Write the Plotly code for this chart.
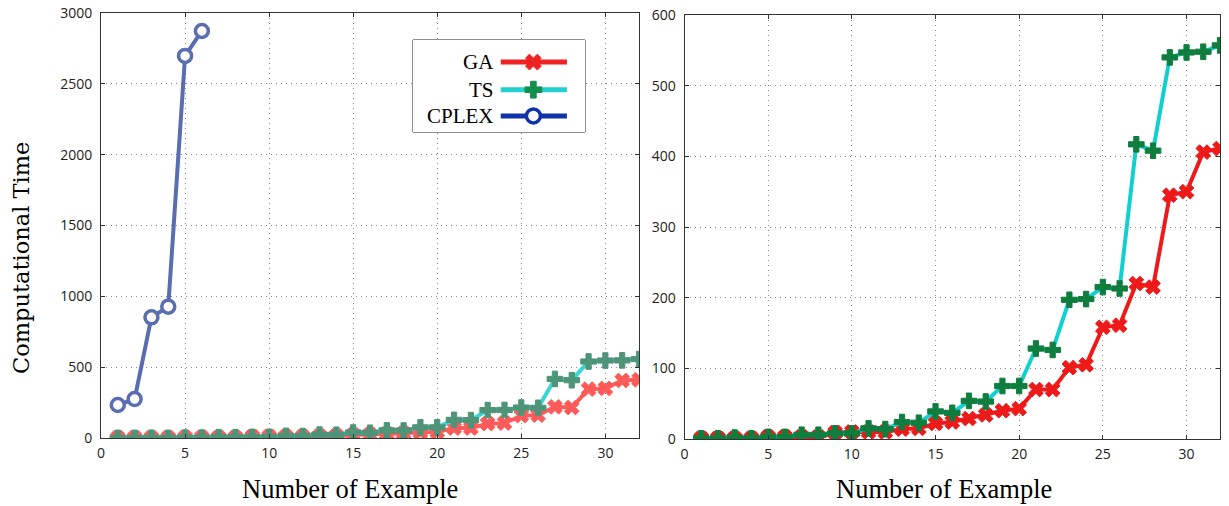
import plotly.graph_objects as go

# ---------------- data ----------------
examples = list(range(1, 33))
ga_time = [1, 1, 1, 1, 3, 3, 3, 3, 9, 10, 10, 10, 14, 15, 22, 24, 29, 34, 40, 43,
           70, 70, 101, 105, 158, 161, 220, 215, 345, 350, 406, 411]
ts_time = [1, 1, 2, 1, 3, 3, 6, 6, 8, 8, 15, 14, 24, 23, 39, 37, 54, 53, 75, 75,
           128, 126, 197, 198, 215, 213, 417, 408, 540, 547, 548, 557]
cplex_examples = [1, 2, 3, 4, 5, 6]
cplex_time = [233, 275, 852, 927, 2697, 2873]

x_ticks = [0, 5, 10, 15, 20, 25, 30]
left_y_ticks = [0, 500, 1000, 1500, 2000, 2500, 3000]
right_y_ticks = [0, 100, 200, 300, 400, 500, 600]
legend_names = ["GA", "TS", "CPLEX"]

W, H = 1229, 506

def px_x(p):
    return p / W

def px_y(p):
    return 1 - p / H

fig = go.Figure()

# ---------- left panel (faded colours) ----------
fig.add_trace(go.Scatter(x=examples, y=ga_time, mode="lines+markers", xaxis="x", yaxis="y",
                         line=dict(color="#ff5a5a", width=4),
                         marker=dict(symbol="x", size=13, color="#ff5a5a",
                                     line=dict(color="#ff5a5a", width=1)),
                         showlegend=False))
fig.add_trace(go.Scatter(x=examples, y=ts_time, mode="lines+markers", xaxis="x", yaxis="y",
                         line=dict(color="#3ad4d4", width=4),
                         marker=dict(symbol="cross", size=13, color="#4e9479",
                                     line=dict(color="#4e9479", width=1)),
                         showlegend=False))
fig.add_trace(go.Scatter(x=cplex_examples, y=cplex_time, mode="lines+markers", xaxis="x", yaxis="y",
                         line=dict(color="#5a6db0", width=4),
                         marker=dict(symbol="circle", size=13, color="white",
                                     line=dict(color="#5a6db0", width=3.5)),
                         showlegend=False))

# ---------- right panel ----------
fig.add_trace(go.Scatter(x=examples, y=ga_time, mode="lines+markers", xaxis="x2", yaxis="y2",
                         line=dict(color="#ee1a1a", width=4),
                         marker=dict(symbol="x", size=13, color="#ee1a1a",
                                     line=dict(color="#ee1a1a", width=1)),
                         showlegend=False))
fig.add_trace(go.Scatter(x=examples, y=ts_time, mode="lines+markers", xaxis="x2", yaxis="y2",
                         line=dict(color="#11d0d0", width=4),
                         marker=dict(symbol="cross", size=13, color="#0f7d3e",
                                     line=dict(color="#0f7d3e", width=1)),
                         showlegend=False))

# ---------- custom legend (text left, sample right) ----------
leg_colors = ["#ee2222", "#22d0d0", "#1133aa"]
leg_marker_colors = ["#ee2222", "#119050", "white"]
leg_symbols = ["x", "cross", "circle"]
leg_rows = [0.76, 0.46, 0.175]
for name, lc, mc, sym, ry in zip(legend_names, leg_colors, leg_marker_colors, leg_symbols, leg_rows):
    fig.add_trace(go.Scatter(x=[0.51, 0.70, 0.895], y=[ry, ry, ry], mode="lines", xaxis="x3", yaxis="y3",
                             line=dict(color=lc, width=5), showlegend=False, hoverinfo="skip"))
    mline = dict(color="#1133aa", width=3.5) if sym == "circle" else dict(color=mc, width=1)
    fig.add_trace(go.Scatter(x=[0.70], y=[ry], mode="markers", xaxis="x3", yaxis="y3",
                             marker=dict(symbol=sym, size=14, color=mc, line=mline),
                             showlegend=False, hoverinfo="skip"))

annotations = []
for name, ry in zip(legend_names, leg_rows):
    annotations.append(dict(x=0.48, y=ry, xref="x3", yref="y3", text=name, showarrow=False,
                            xanchor="right", yanchor="middle",
                            font=dict(family="Liberation Serif", size=21, color="black")))

annotations += [
    dict(x=px_x(21), y=px_y(258), xref="paper", yref="paper", text="Computational Time",
         textangle=-90, showarrow=False, xanchor="center", yanchor="middle",
         font=dict(family="DejaVu Serif", size=22.5, color="black")),
    dict(x=px_x(350), y=px_y(489), xref="paper", yref="paper", text="Number of Example",
         showarrow=False, xanchor="center", yanchor="middle",
         font=dict(family="Liberation Serif", size=26.5, color="black")),
    dict(x=px_x(944), y=px_y(489), xref="paper", yref="paper", text="Number of Example",
         showarrow=False, xanchor="center", yanchor="middle",
         font=dict(family="Liberation Serif", size=26.5, color="black")),
]

axis_common = dict(showline=True, linecolor="#333", linewidth=1, mirror="ticks",
                   ticks="inside", ticklen=4, tickcolor="#333",
                   showgrid=True, gridcolor="#8a8a8a", griddash="1px,4px", gridwidth=1,
                   zeroline=False, automargin=False,
                   tickfont=dict(family="Open Sans", size=14, color="#222"))

fig.update_layout(
    width=W, height=H,
    margin=dict(l=0, r=0, t=0, b=0, pad=0),
    paper_bgcolor="white", plot_bgcolor="white",
    xaxis=dict(domain=[px_x(101), px_x(639)], range=[0, 32], tickvals=x_ticks, anchor="y",
               ticklabelstandoff=2, **axis_common),
    yaxis=dict(domain=[px_y(438), px_y(13)], range=[0, 3000], tickvals=left_y_ticks, anchor="x",
               ticklabelstandoff=5, **axis_common),
    xaxis2=dict(domain=[px_x(684.5), px_x(1220)], range=[0, 32], tickvals=x_ticks, anchor="y2",
                ticklabelstandoff=2, **axis_common),
    yaxis2=dict(domain=[px_y(439), px_y(15)], range=[0, 600], tickvals=right_y_ticks, anchor="x2",
                ticklabelstandoff=5, **axis_common),
    xaxis3=dict(domain=[px_x(413), px_x(585)], range=[0, 1], visible=False, anchor="y3",
                fixedrange=True, automargin=False),
    yaxis3=dict(domain=[px_y(132), px_y(40)], range=[0, 1], visible=False, anchor="x3",
                fixedrange=True, automargin=False),
    annotations=annotations,
    showlegend=False,
)

fig.add_shape(type="rect", xref="paper", yref="paper",
              x0=px_x(413), x1=px_x(585), y0=px_y(132), y1=px_y(40),
              line=dict(color="#222", width=1), fillcolor="white", layer="below")

fig.write_html("out.html")
